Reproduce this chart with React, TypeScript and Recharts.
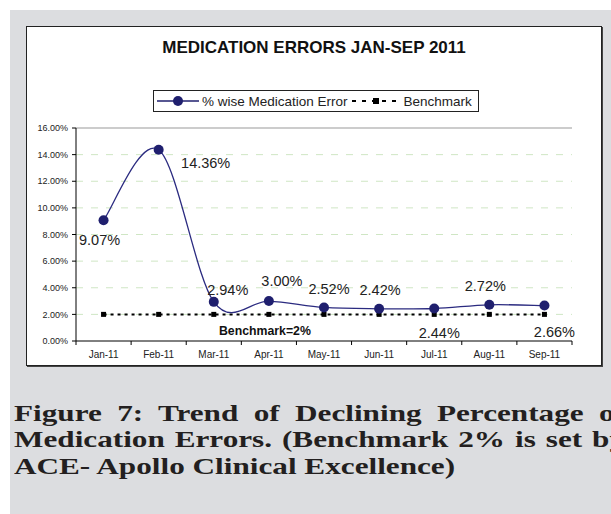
import React from 'react';
import { LineChart, Line, XAxis, YAxis, ReferenceLine, LabelList } from 'recharts';

const months = ['Jan-11', 'Feb-11', 'Mar-11', 'Apr-11', 'May-11', 'Jun-11', 'Jul-11', 'Aug-11', 'Sep-11'];
const errorPct = [9.07, 14.36, 2.94, 3.0, 2.52, 2.42, 2.44, 2.72, 2.66];
const benchmarkPct = [2, 2, 2, 2, 2, 2, 2, 2, 2];
const yTicks = [0, 2, 4, 6, 8, 10, 12, 14, 16];
const gridLines = [2, 4, 6, 8, 10, 12, 14];

const chartData = months.map((month, i) => ({
    month,
    error: errorPct[i],
    benchmark: benchmarkPct[i],
}));

// where each value label sits relative to its point (dx, dy to text centre)
const labelOffsets = [
    [-4, 20], [47, 13], [14, -12], [13, -20], [5, -18],
    [1, -19], [5, 24], [-4, -19], [10, 26],
];

const NAVY = '#1f1f6e';
const PLOT_W = 496;
const BAND = PLOT_W / months.length;

// Excel-like smoothed line (Catmull-Rom)
const smoothCurve = (context: any) => {
    let pts: number[][] = [];
    return {
        areaStart() {},
        areaEnd() {},
        lineStart() {
            pts = [];
        },
        point(x: number, y: number) {
            pts.push([+x, +y]);
        },
        lineEnd() {
            if (!pts.length) return;
            context.moveTo(pts[0][0], pts[0][1]);
            for (let i = 0; i < pts.length - 1; i++) {
                const p0 = pts[i - 1] || pts[i];
                const p1 = pts[i];
                const p2 = pts[i + 1];
                const p3 = pts[i + 2] || p2;
                context.bezierCurveTo(
                    p1[0] + (p2[0] - p0[0]) / 6,
                    p1[1] + (p2[1] - p0[1]) / 6,
                    p2[0] - (p3[0] - p1[0]) / 6,
                    p2[1] - (p3[1] - p1[1]) / 6,
                    p2[0],
                    p2[1]
                );
            }
        },
    };
};

const MonthTick = (props: any) => {
    const { x, y, payload, index } = props;
    const left = x - BAND / 2;
    return (
        <g>
            <line x1={left} y1={y} x2={left} y2={y + 4} stroke="#000" />
            {index === months.length - 1 && (
                <line x1={x + BAND / 2} y1={y} x2={x + BAND / 2} y2={y + 4} stroke="#000" />
            )}
            <text x={x} y={y + 13} textAnchor="middle" dominantBaseline="central" fontSize={10} fill="#222">
                {payload.value}
            </text>
        </g>
    );
};

const ValueLabel = (props: any) => {
    const { x, y, value, index } = props;
    const [dx, dy] = labelOffsets[index] || [0, -15];
    return (
        <text x={x + dx} y={y + dy} textAnchor="middle" dominantBaseline="central" fontSize={14.5} fill="#222">
            {Number(value).toFixed(2)}%
        </text>
    );
};

const BenchLabel = (props: any) => {
    const { x, y, index } = props;
    if (index !== 3) return null;
    return (
        <text x={x - 4} y={y + 17} textAnchor="middle" dominantBaseline="central" fontSize={12.3} fontWeight="bold" fill="#111">
            Benchmark=2%
        </text>
    );
};

const SquareDot = (props: any) => {
    const { cx, cy } = props;
    return <rect x={cx - 2.5} y={cy - 2.5} width={5} height={5} fill="#000" />;
};

const captionLine: React.CSSProperties = {
    position: 'absolute',
    left: 4,
    fontFamily: '"Liberation Serif", "Times New Roman", serif',
    fontWeight: 'bold',
    fontSize: 24,
    lineHeight: '26px',
    color: '#231f20',
    transform: 'scaleX(1.3)',
    transformOrigin: 'left center',
};

const App: React.FC = () => {
    return (
        <div
            style={{
                position: 'absolute',
                left: 10,
                top: 10,
                width: 601,
                height: 504,
                background: '#dcdde0',
                overflow: 'hidden',
                fontFamily: '"Liberation Sans", Arial, sans-serif',
            }}
        >
            <div
                style={{
                    position: 'absolute',
                    left: 16,
                    top: 16,
                    width: 574,
                    height: 338,
                    background: '#fff',
                    border: '1px solid #222',
                    boxShadow: '1px 1px 0 #444',
                }}
            >
                <div
                    style={{
                        position: 'absolute',
                        top: 11,
                        width: '100%',
                        textAlign: 'center',
                        fontSize: 17,
                        fontWeight: 'bold',
                        color: '#111',
                    }}
                >
                    MEDICATION ERRORS JAN-SEP 2011
                </div>
                <div
                    style={{
                        position: 'absolute',
                        left: 126,
                        top: 63,
                        width: 324,
                        height: 20,
                        border: '1px solid #222',
                        display: 'flex',
                        alignItems: 'center',
                        fontSize: 13.5,
                        color: '#222',
                        whiteSpace: 'nowrap',
                    }}
                >
                    <svg width={48} height={20}>
                        <line x1={3} y1={10} x2={45} y2={10} stroke={NAVY} strokeWidth={1.5} />
                        <circle cx={24} cy={10} r={5} fill={NAVY} />
                    </svg>
                    <span>% wise Medication Error</span>
                    <svg width={56} height={20}>
                        <line x1={4} y1={10} x2={52} y2={10} stroke="#000" strokeWidth={2} strokeDasharray="4 6" />
                        <rect x={25} y={7} width={6} height={6} fill="#000" />
                    </svg>
                    <span>Benchmark</span>
                </div>
                <LineChart
                    width={574}
                    height={338}
                    data={chartData}
                    margin={{ top: 101, right: 29, bottom: 0, left: 0 }}
                >
                    {gridLines.map((v) => (
                        <ReferenceLine key={v} y={v} stroke="#cfe6c4" strokeDasharray="7 8" />
                    ))}
                    <ReferenceLine y={16} stroke="#999" />
                    <XAxis
                        dataKey="month"
                        axisLine={{ stroke: '#000' }}
                        tickLine={false}
                        tickSize={0}
                        tickMargin={0}
                        height={24}
                        padding={{ left: BAND / 2, right: BAND / 2 }}
                        tick={<MonthTick />}
                        interval={0}
                    />
                    <YAxis
                        domain={[0, 16]}
                        ticks={yTicks}
                        width={49}
                        axisLine={{ stroke: '#000' }}
                        tickLine={{ stroke: '#000' }}
                        tickSize={4}
                        tickMargin={4}
                        tick={{ fontSize: 9, fill: '#222' }}
                        tickFormatter={(v: number) => `${v.toFixed(2)}%`}
                    />
                    <YAxis yAxisId="right" orientation="right" width={0} tick={false} tickLine={false} axisLine={{ stroke: '#999' }} />
                    <Line
                        dataKey="benchmark"
                        stroke="#000"
                        strokeWidth={2}
                        strokeDasharray="3 4"
                        dot={<SquareDot />}
                        isAnimationActive={false}
                    >
                        <LabelList dataKey="benchmark" content={<BenchLabel />} />
                    </Line>
                    <Line
                        dataKey="error"
                        type={smoothCurve as any}
                        stroke="#2b2b80"
                        strokeWidth={1.3}
                        dot={{ r: 5, fill: NAVY, stroke: 'none' }}
                        isAnimationActive={false}
                    >
                        <LabelList dataKey="error" content={<ValueLabel />} />
                    </Line>
                </LineChart>
            </div>
            <div style={{ ...captionLine, top: 390, width: 470, textAlign: 'justify', textAlignLast: 'justify' }}>
                Figure 7: Trend of Declining Percentage of
            </div>
            <div style={{ ...captionLine, top: 416, width: 470, textAlign: 'justify', textAlignLast: 'justify' }}>
                Medication Errors. (Benchmark 2% is set by
            </div>
            <div style={{ ...captionLine, top: 443, whiteSpace: 'nowrap' }}>
                ACE- Apollo Clinical Excellence)
            </div>
        </div>
    );
};

export default App;
